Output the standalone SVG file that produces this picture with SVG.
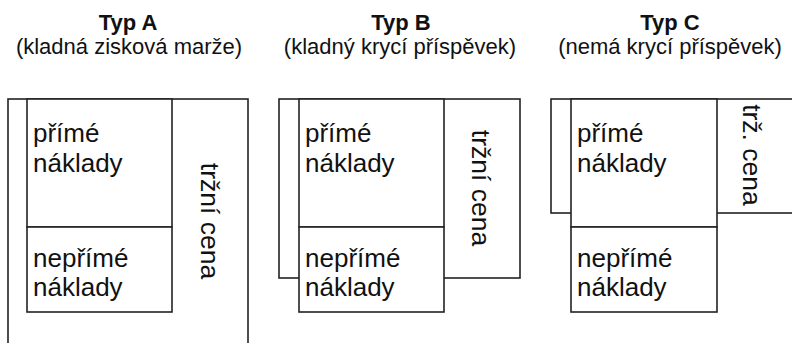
<svg xmlns="http://www.w3.org/2000/svg" width="792" height="343" viewBox="0 0 792 343">
  <style>
    .box { fill: #fff; stroke: #222; stroke-width: 1.6; }
    .title { font-family: "Liberation Sans", Arial, sans-serif; font-weight: bold; font-size: 22px; fill: #111; text-anchor: middle; }
    .sub { font-family: "Liberation Sans", Arial, sans-serif; font-size: 22px; fill: #111; text-anchor: middle; }
    .lbl { font-family: "Liberation Sans", Arial, sans-serif; font-size: 26px; fill: #111; }
    .rot { font-family: "Liberation Sans", Arial, sans-serif; font-size: 26.5px; fill: #111; text-anchor: middle; }
  </style>
  <rect width="792" height="343" fill="#fff"/>

  <!-- Type A: positive profit margin -->
  <g id="typA">
    <text class="title" x="128" y="29.5">Typ A</text>
    <text class="sub" x="129" y="54">(kladná zisková marže)</text>
    <rect class="box" x="8" y="99" width="240" height="260"/>
    <rect class="box" x="27" y="99" width="145" height="128"/>
    <rect class="box" x="27" y="227" width="145" height="85"/>
    <text class="lbl" x="33" y="142">přímé</text>
    <text class="lbl" x="33" y="172">náklady</text>
    <text class="lbl" x="33" y="267">nepřímé</text>
    <text class="lbl" x="33" y="296">náklady</text>
    <text class="rot" transform="translate(201,221) rotate(90)">tržní cena</text>
  </g>

  <!-- Type B: positive contribution margin -->
  <g id="typB">
    <text class="title" x="401" y="29.5">Typ B</text>
    <text class="sub" x="400" y="54">(kladný krycí příspěvek)</text>
    <rect class="box" x="279" y="99" width="241" height="179"/>
    <rect class="box" x="299" y="99" width="145" height="128"/>
    <rect class="box" x="299" y="227" width="145" height="85"/>
    <text class="lbl" x="305" y="142">přímé</text>
    <text class="lbl" x="305" y="172">náklady</text>
    <text class="lbl" x="305" y="267">nepřímé</text>
    <text class="lbl" x="305" y="296">náklady</text>
    <text class="rot" transform="translate(472,188) rotate(90)">tržní cena</text>
  </g>

  <!-- Type C: no contribution margin -->
  <g id="typC">
    <text class="title" x="670" y="29.5">Typ C</text>
    <text class="sub" x="670" y="54">(nemá krycí příspěvek)</text>
    <rect class="box" x="551" y="99" width="260" height="114"/>
    <rect class="box" x="571" y="99" width="146" height="128"/>
    <rect class="box" x="571" y="227" width="146" height="85"/>
    <text class="lbl" x="577" y="142">přímé</text>
    <text class="lbl" x="577" y="172">náklady</text>
    <text class="lbl" x="577" y="267">nepřímé</text>
    <text class="lbl" x="577" y="296">náklady</text>
    <text class="rot" transform="translate(743,155) rotate(90)">trž. cena</text>
  </g>

  <g id="connectors"/>
</svg>
